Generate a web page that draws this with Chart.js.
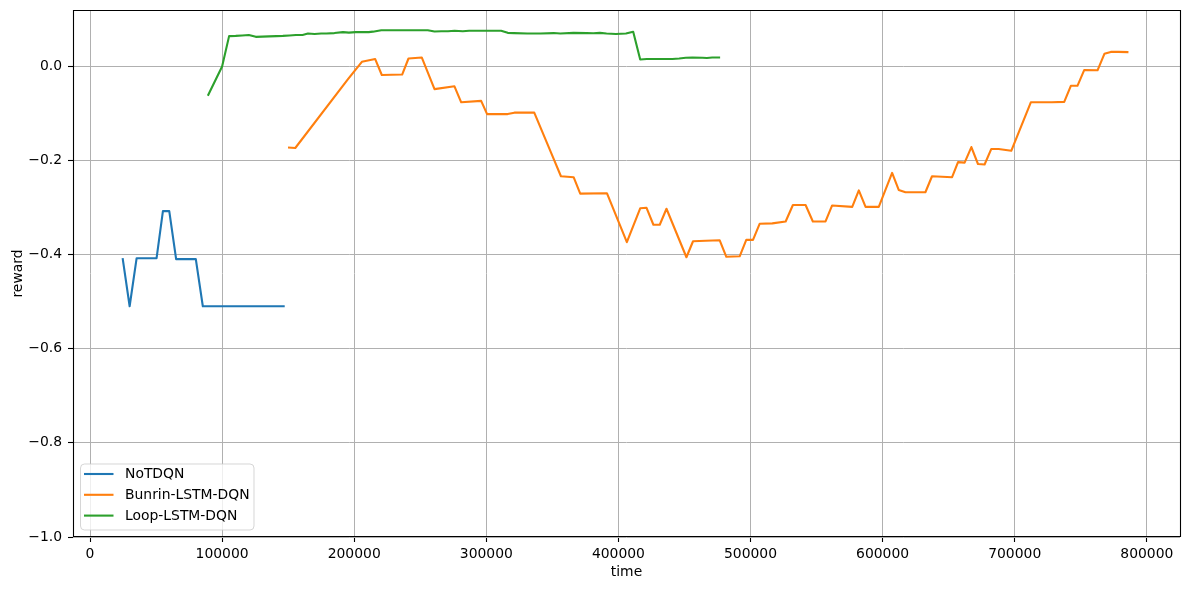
<!DOCTYPE html>
<html><head><meta charset="utf-8">
<script src="https://cdn.jsdelivr.net/npm/chart.js@4/dist/chart.umd.min.js"></script>
<style>html,body{margin:0;padding:0;background:#fff}#wrap{width:1189px;height:590px;position:relative}canvas{display:block}</style>
</head><body><div id="wrap"><canvas id="c" width="1189" height="590"></canvas></div>
<script>
const seriesNames = ['NoTDQN', 'Bunrin-LSTM-DQN', 'Loop-LSTM-DQN'];
const seriesColors = ['#1f77b4', '#ff7f0e', '#2ca02c'];

const noTdqnTime   = [24700, 30000, 35300, 50400, 55200, 60000, 65200, 80100, 85400, 147400];
const noTdqnReward = [-0.408, -0.51, -0.408, -0.408, -0.308, -0.308, -0.41, -0.41, -0.51, -0.51];

const bunrinTime = [149900, 155400, 195300, 205800, 215900, 220900, 236300, 241100, 251200, 260800, 275900, 281000, 296100, 300600, 316200, 321200, 336300, 350200, 356500, 366100, 371100, 391300, 406400, 416500, 421300, 426500, 431300, 436400, 451500, 456500, 466100, 476700, 481700, 491800, 496800, 501900, 506900, 516500, 526600, 532100, 541700, 547200, 556800, 561800, 577000, 582000, 587100, 597100, 607200, 612200, 617300, 632400, 637400, 652600, 657100, 662100, 667200, 672200, 677200, 682300, 687800, 697400, 712200, 728100, 737500, 742500, 747500, 752600, 762700, 767900, 772700, 778500, 786100];
const bunrinReward = [-0.173, -0.174, -0.028, 0.009, 0.0148, -0.019, -0.018, 0.016, 0.018, -0.049, -0.043, -0.077, -0.074, -0.102, -0.102, -0.099, -0.099, -0.192, -0.234, -0.236, -0.271, -0.270, -0.374, -0.302, -0.301, -0.337, -0.337, -0.303, -0.406, -0.372, -0.371, -0.370, -0.405, -0.404, -0.369, -0.369, -0.335, -0.334, -0.330, -0.295, -0.295, -0.330, -0.330, -0.296, -0.299, -0.264, -0.299, -0.299, -0.227, -0.263, -0.268, -0.268, -0.234, -0.236, -0.204, -0.205, -0.172, -0.208, -0.209, -0.176, -0.176, -0.180, -0.077, -0.077, -0.076, -0.042, -0.042, -0.0085, -0.009, 0.026, 0.030, 0.030, 0.0296];

const loopTime = [89200, 100000, 105300, 110300, 115200, 120200, 125500, 130500, 135500, 141100, 146000, 151000, 155900, 160900, 165000, 170000, 175000, 178900, 185000, 191500, 196000, 201000, 206000, 211000, 214100, 220500, 231000, 241000, 251000, 255700, 260800, 266000, 271000, 276000, 282200, 287000, 292000, 297000, 302000, 307000, 311200, 316200, 321000, 331000, 341000, 351000, 356000, 366000, 376000, 381000, 386000, 391000, 398100, 405700, 411200, 416500, 421500, 431500, 440900, 446000, 451000, 456000, 463600, 467000, 471000, 477000];
const loopReward = [-0.063, -0.001, 0.0635, 0.064, 0.065, 0.066, 0.062, 0.0625, 0.063, 0.0635, 0.064, 0.065, 0.066, 0.066, 0.069, 0.068, 0.069, 0.069, 0.070, 0.072, 0.071, 0.072, 0.072, 0.072, 0.073, 0.076, 0.076, 0.076, 0.076, 0.076, 0.0735, 0.074, 0.074, 0.075, 0.074, 0.075, 0.075, 0.075, 0.075, 0.075, 0.075, 0.0705, 0.070, 0.069, 0.069, 0.070, 0.069, 0.0705, 0.070, 0.0695, 0.0705, 0.069, 0.068, 0.069, 0.0726, 0.014, 0.015, 0.015, 0.015, 0.016, 0.0176, 0.018, 0.0176, 0.017, 0.018, 0.018];

const xTicks = [0, 100000, 200000, 300000, 400000, 500000, 600000, 700000, 800000];
const yTicks = [-1.0, -0.8, -0.6, -0.4, -0.2, 0.0];

const xLabel = 'time';
const yLabel = 'reward';

function pts(xs, ys) { return xs.map((x, i) => ({x: x, y: ys[i]})); }

const FONT = '"DejaVu Sans", "Liberation Sans", sans-serif';
Chart.defaults.font.family = FONT;
Chart.defaults.font.size = 13.9;
Chart.defaults.color = '#000';

const framePlugin = {
  id: 'frame',
  afterDatasetsDraw(chart) {
    const a = chart.chartArea, ctx = chart.ctx;
    ctx.save();
    ctx.strokeStyle = '#000';
    ctx.lineWidth = 1.1;
    ctx.beginPath();
    ctx.rect(a.left + 0.5, a.top + 0.5, a.right - a.left, a.bottom - a.top - 1);
    ctx.stroke();
    ctx.restore();
  }
};

const legendPlugin = {
  id: 'mplLegend',
  afterDraw(chart) {
    const ctx = chart.ctx;
    const x0 = 80.5, y0 = 464, w = 173.5, h = 66, r = 4;
    ctx.save();
    ctx.beginPath();
    if (ctx.roundRect) ctx.roundRect(x0, y0, w, h, r); else ctx.rect(x0, y0, w, h);
    ctx.fillStyle = 'rgba(255,255,255,0.8)';
    ctx.fill();
    ctx.strokeStyle = 'rgba(204,204,204,0.8)';
    ctx.lineWidth = 1;
    ctx.stroke();
    chart.data.datasets.forEach((ds, i) => {
      const y = 474 + i * 20.8;
      ctx.strokeStyle = ds.borderColor;
      ctx.lineWidth = 2.1;
      ctx.beginPath(); ctx.moveTo(84, y); ctx.lineTo(113.5, y); ctx.stroke();
      ctx.fillStyle = '#000';
      ctx.font = '13.9px ' + FONT;
      ctx.textBaseline = 'middle';
      ctx.textAlign = 'left';
      ctx.fillText(ds.label, 125, y + 0.5);
    });
    ctx.restore();
  }
};

const fmtY = v => (v < -1e-9 ? '\u2212' : '') + Math.abs(v).toFixed(1);

new Chart(document.getElementById('c'), {
  type: 'line',
  data: {
    datasets: [
      {label: seriesNames[0], data: pts(noTdqnTime, noTdqnReward), borderColor: seriesColors[0]},
      {label: seriesNames[1], data: pts(bunrinTime, bunrinReward), borderColor: seriesColors[1]},
      {label: seriesNames[2], data: pts(loopTime, loopReward), borderColor: seriesColors[2]}
    ]
  },
  options: {
    responsive: false,
    devicePixelRatio: 1,
    animation: false,
    parsing: false,
    layout: {padding: {left: 0, top: 10, right: 9, bottom: 0}},
    elements: {
      point: {radius: 0, hoverRadius: 0},
      line: {borderWidth: 2.1, tension: 0, fill: false, borderJoinStyle: 'round', borderCapStyle: 'butt'}
    },
    plugins: {legend: {display: false}, tooltip: {enabled: false}},
    scales: {
      x: {
        type: 'linear',
        min: -12870, max: 825130,
        afterBuildTicks: s => { s.ticks = xTicks.map(v => ({value: v})); },
        afterFit: s => { s.height = 53; s.paddingLeft = 0; s.paddingRight = 0; },
        grid: {color: '#b0b0b0', lineWidth: 1, drawTicks: true, tickLength: 5, tickColor: '#000', tickWidth: 1.1},
        border: {display: false},
        ticks: {autoSkip: false, maxRotation: 0, padding: 4, callback: v => String(v), color: '#000'},
        title: {display: true, text: xLabel, padding: {top: 0, bottom: 9.4}, color: '#000'}
      },
      y: {
        type: 'linear',
        min: -1.0, max: 0.119,
        afterBuildTicks: s => { s.ticks = yTicks.map(v => ({value: v})); },
        afterFit: s => { s.width = 73; s.paddingTop = 0; s.paddingBottom = 0; },
        grid: {color: '#b0b0b0', lineWidth: 1, drawTicks: true, tickLength: 5, tickColor: '#000', tickWidth: 1.1},
        border: {display: false},
        ticks: {padding: 6, callback: fmtY, color: '#000'},
        title: {display: true, text: yLabel, padding: {top: 10, bottom: 0}, color: '#000'}
      }
    }
  },
  plugins: [framePlugin, legendPlugin]
});
</script>
</body></html>
